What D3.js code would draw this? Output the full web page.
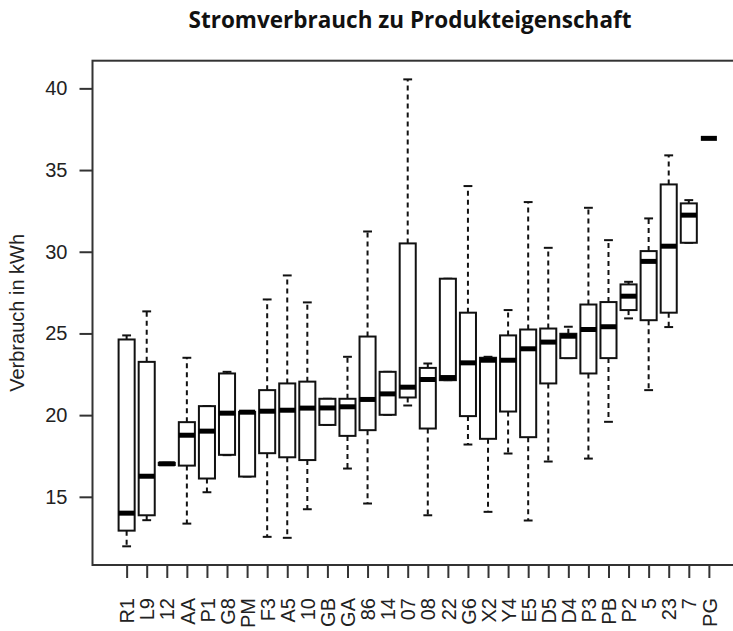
<!DOCTYPE html>
<html>
<head>
<meta charset="utf-8">
<script src="https://cdn.jsdelivr.net/npm/d3@7"></script>
<style>
  html, body { margin: 0; padding: 0; background: #fff; }
  svg { display: block; }
</style>
</head>
<body>
<svg id="chart" width="733" height="631"></svg>
<script>
// Product groups, ordered by median consumption
const categories = ["R1","L9","12","AA","P1","G8","PM","F3","A5","10","GB","GA","86","14","07",
                    "08","22","G6","X2","Y4","E5","D5","D4","P3","PB","P2","5","23","7","PG"];

// Five-number summaries (kWh)
const whiskerLow = [11.97,13.57,16.95,13.36,15.28,17.55,16.24,12.55,12.49,14.24,19.40,16.73,14.59,20.02,20.59,
                    13.87,22.14,18.20,14.08,17.65,13.55,17.16,23.49,17.34,19.59,25.92,21.53,25.39,30.55,36.94];
const q1         = [12.93,13.87,16.95,16.91,16.12,17.57,16.24,17.67,17.42,17.25,19.40,18.73,19.08,20.02,21.08,
                    19.18,22.14,19.94,18.55,20.22,18.65,21.94,23.49,22.55,23.49,26.43,25.81,26.27,30.55,36.94];
const median     = [14.00,16.26,17.02,18.77,19.02,20.12,20.18,20.24,20.30,20.43,20.44,20.51,20.96,21.30,21.71,
                    22.18,22.30,23.20,23.36,23.36,24.06,24.47,24.83,25.24,25.41,27.28,29.41,30.34,32.24,36.94];
const q3         = [24.63,23.26,17.08,19.57,20.55,22.55,20.20,21.53,21.94,22.05,21.00,21.00,24.81,22.65,30.51,
                    22.89,28.35,26.27,23.51,24.88,25.24,25.30,24.98,26.77,26.92,28.00,30.04,34.12,32.96,36.94];
const whiskerHigh= [24.88,26.35,17.08,23.51,20.55,22.65,20.20,27.08,28.55,26.90,21.00,23.57,31.24,22.65,40.55,
                    23.16,28.35,34.02,23.57,26.43,33.04,30.24,25.41,32.69,30.71,28.16,32.04,35.90,33.16,36.94];
const yTicks = [15, 20, 25, 30, 35, 40];

const titleText = "Stromverbrauch zu Produkteigenschaft";
const yLabel = "Verbrauch in kWh";

const data = categories.map((c, i) => ({
  cat: c, pos: i + 1,
  lo: whiskerLow[i], q1: q1[i], med: median[i], q3: q3[i], hi: whiskerHigh[i]
}));

const svg = d3.select("#chart");
const plot = { left: 92.5, right: 743, top: 60.7, bottom: 565 };

// x: box positions 1..n, padded by half a slot plus 4% as in base graphics
const n = categories.length;
const xPad = n * 0.04;
const x = d3.scaleLinear()
  .domain([0.5 - xPad, n + 0.5 + xPad])
  .range([plot.left, plot.right]);

// y: data extent padded by 4%
const yMin = d3.min(whiskerLow), yMax = d3.max(whiskerHigh);
const yPad = (yMax - yMin) * 0.04;
const y = d3.scaleLinear()
  .domain([yMin - yPad, yMax + yPad])
  .range([plot.bottom, plot.top]);

const boxW = x(1.4) - x(1);     // half box width (boxwex 0.8)
const capW = x(1.22) - x(1);    // half staple width

const ink = "#111";
const labelFont = "'Liberation Sans', Arial, sans-serif";

// boxes
const g = svg.append("g");
const boxes = g.selectAll("g.box").data(data).enter().append("g").attr("class", "box");

// dashed whiskers
boxes.append("line")
  .attr("x1", d => x(d.pos)).attr("x2", d => x(d.pos))
  .attr("y1", d => y(d.q3)).attr("y2", d => y(d.hi))
  .attr("stroke", ink).attr("stroke-width", 2).attr("stroke-dasharray", "5,4");
boxes.append("line")
  .attr("x1", d => x(d.pos)).attr("x2", d => x(d.pos))
  .attr("y1", d => y(d.q1)).attr("y2", d => y(d.lo))
  .attr("stroke", ink).attr("stroke-width", 2).attr("stroke-dasharray", "5,4");

// staples
boxes.append("line")
  .attr("x1", d => x(d.pos) - capW).attr("x2", d => x(d.pos) + capW)
  .attr("y1", d => y(d.hi)).attr("y2", d => y(d.hi))
  .attr("stroke", ink).attr("stroke-width", 2);
boxes.append("line")
  .attr("x1", d => x(d.pos) - capW).attr("x2", d => x(d.pos) + capW)
  .attr("y1", d => y(d.lo)).attr("y2", d => y(d.lo))
  .attr("stroke", ink).attr("stroke-width", 2);

// box body
boxes.append("rect")
  .attr("x", d => x(d.pos) - boxW)
  .attr("width", 2 * boxW)
  .attr("y", d => y(d.q3))
  .attr("height", d => y(d.q1) - y(d.q3))
  .attr("fill", "#fff").attr("stroke", ink).attr("stroke-width", 2);

// median
boxes.append("line")
  .attr("x1", d => x(d.pos) - boxW).attr("x2", d => x(d.pos) + boxW)
  .attr("y1", d => y(d.med)).attr("y2", d => y(d.med))
  .attr("stroke", "#000").attr("stroke-width", 5);

// plot frame
svg.append("rect")
  .attr("x", plot.left).attr("y", plot.top)
  .attr("width", plot.right - plot.left).attr("height", plot.bottom - plot.top)
  .attr("fill", "none").attr("stroke", "#333").attr("stroke-width", 2);

// y axis
const yAxis = svg.append("g")
  .attr("transform", `translate(${plot.left},0)`)
  .call(d3.axisLeft(y).tickValues(yTicks).tickSize(13).tickPadding(12).tickFormat(d3.format("d")));
yAxis.select(".domain").remove();
yAxis.selectAll("line").attr("stroke", "#333").attr("stroke-width", 2);
yAxis.selectAll("text")
  .attr("font-family", labelFont)
  .attr("font-size", 20).attr("fill", "#222");

// x axis
const xAxis = svg.append("g")
  .attr("transform", `translate(0,${plot.bottom})`)
  .call(d3.axisBottom(x).tickValues(d3.range(1, n + 1)).tickSize(13)
        .tickFormat(d => categories[d - 1]));
xAxis.select(".domain").remove();
xAxis.selectAll("line").attr("stroke", "#333").attr("stroke-width", 2);
xAxis.selectAll("text")
  .attr("font-family", labelFont)
  .attr("font-size", 20).attr("fill", "#222")
  .attr("text-anchor", "end")
  .attr("transform", "rotate(-90)")
  .attr("x", -33).attr("y", 0).attr("dy", "0.36em");

// axis title
svg.append("text")
  .attr("transform", `translate(24,${(plot.top + plot.bottom) / 2}) rotate(-90)`)
  .attr("text-anchor", "middle")
  .attr("font-family", labelFont)
  .attr("font-size", 20).attr("fill", "#222")
  .text(yLabel);

// chart title
svg.append("text")
  .attr("x", 410).attr("y", 28)
  .attr("text-anchor", "middle")
  .attr("font-family", "'Open Sans', sans-serif")
  .attr("font-weight", "bold")
  .attr("font-size", 22.5).attr("fill", "#111")
  .text(titleText);
</script>
</body>
</html>
